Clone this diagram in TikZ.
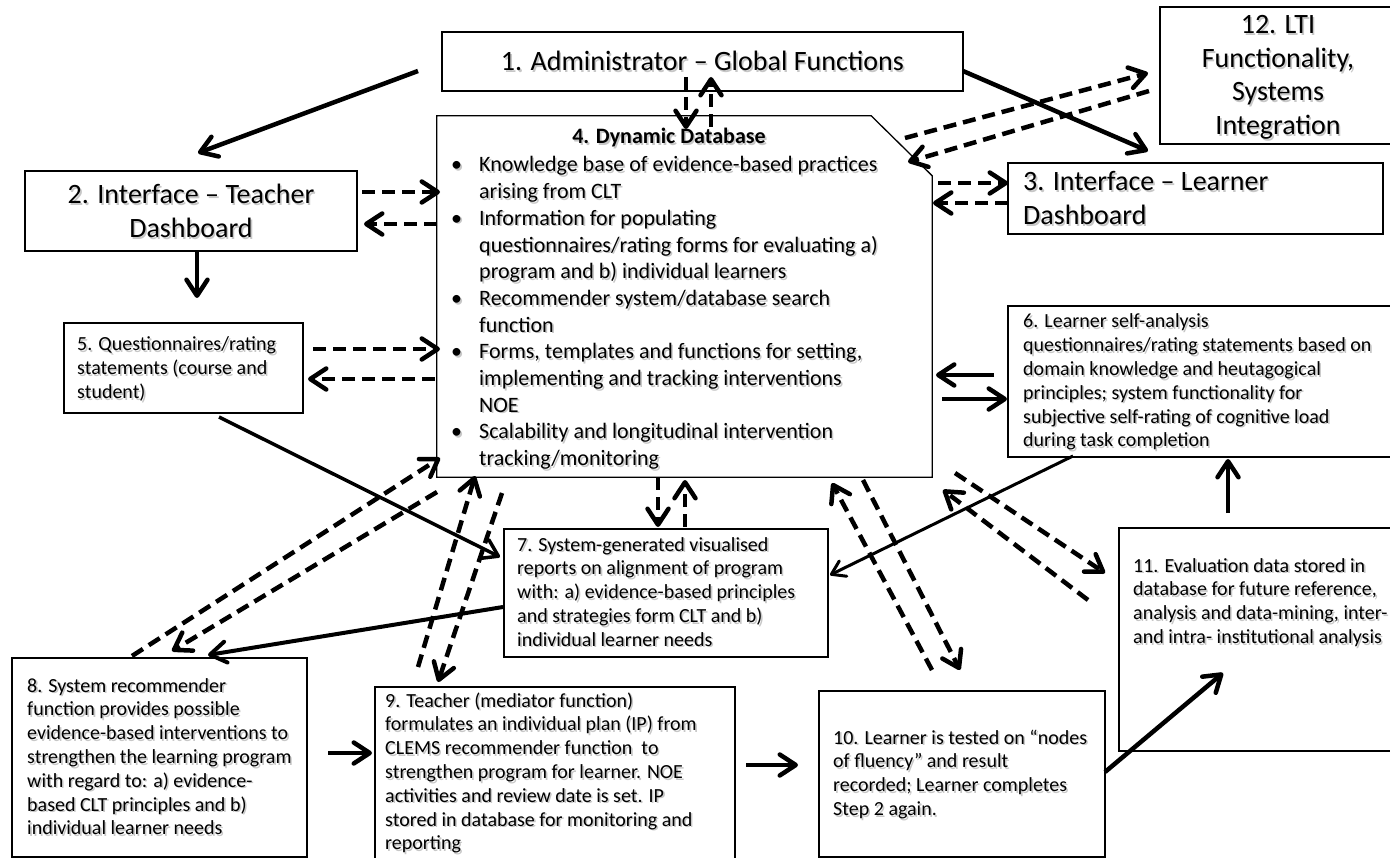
\documentclass[tikz,border=0pt]{standalone}
\usepackage{fontspec}
\setmainfont{Carlito}
\usetikzlibrary{arrows.meta}
\newcommand\bigtxt{\fontsize{28}{33.5}\selectfont}
\newcommand\dbtxt{\fontsize{22}{26.7}\selectfont}
\newcommand\smalltxt{\fontsize{20}{23.8}\selectfont}
\newcommand\dbitem{\makebox[28pt][l]{\textbullet}}
\newcommand\dbcont{\hspace*{28pt}}
% text with a soft grey drop shadow
\newcommand\shad[1]{\makebox[0pt][l]{\hspace{1.6pt}\raisebox{-1.6pt}{\color{black!22}#1}}#1}
\begin{document}
\begin{tikzpicture}[x=1pt,y=-1pt,
  box/.style={draw, line width=1.5pt, inner sep=0pt},
  txt/.style={inner sep=0pt, anchor=base west, font=\smalltxt},
  ctxt/.style={inner sep=0pt, anchor=base},
  link/.style={line width=4.5pt, -{Straight Barb[length=16pt,width=21pt,round]}},
  thinlink/.style={line width=3pt, -{Straight Barb[length=13pt,width=17pt,round]}},
  dlink/.style={link, dash pattern=on 13pt off 7pt},
]
\useasboundingbox (0,0) rectangle (1390,858);

% ---------- boxes ----------
\node[box, minimum width=521pt, minimum height=59pt]  (b1)  at (702.5,61.5) {};
\node[box, minimum width=236pt, minimum height=137pt] (b12) at (1278,75.5) {};
\node[box, minimum width=332pt, minimum height=80pt]  (b2)  at (191,211) {};
\node[box, minimum width=375pt, minimum height=71pt]  (b3)  at (1195.5,198.5) {};
\node[box, minimum width=239pt, minimum height=90pt]  (b5)  at (183.5,368) {};
\node[box, minimum width=388pt, minimum height=151pt] (b6)  at (1202,381.5) {};
\node[box, minimum width=324pt, minimum height=128pt] (b7)  at (666,593) {};
\node[box, minimum width=295pt, minimum height=199pt] (b8)  at (159.5,757.5) {};
\node[box, minimum width=360pt, minimum height=183pt] (b9)  at (555,778.5) {};
\node[box, minimum width=286pt, minimum height=166pt] (b10) at (962,774) {};
\node[box, minimum width=277pt, minimum height=223pt] (b11) at (1257.5,639.5) {};
% database: rectangle with a cut top-right corner
\node[inner sep=0pt, minimum width=495pt, minimum height=361pt] (b4) at (684.5,296.5) {};
\draw[line width=1.3pt] (b4.north west) -- ([xshift=-61pt]b4.north east)
  -- ([yshift=-60pt]b4.north east) -- (b4.south east) -- (b4.south west) -- cycle;

% ---------- texts ----------
\node[ctxt, font=\bigtxt] (t1) at (702.5,71) {\shad{1. Administrator – Global Functions}};
\node[ctxt, font=\bigtxt] (t12) at (1278,34)
  {\shad{\parbox[t]{230pt}{\centering 12. LTI\\Functionality,\\Systems\\Integration}}};
\node[ctxt, font=\bigtxt] (t2) at (191,204)
  {\shad{\parbox[t]{320pt}{\centering 2. Interface – Teacher\\Dashboard}}};
\node[txt, font=\bigtxt] (t3) at (1023,191)
  {\shad{\parbox[t]{350pt}{\raggedright 3. Interface – Learner\\Dashboard}}};
\node[ctxt, font=\dbtxt\bfseries] (t4h) at (669,144) {\shad{4. Dynamic Database}};
\node[txt, font=\dbtxt] (t4) at (451,172)
  {\shad{\parbox[t]{470pt}{\raggedright
   \dbitem Knowledge base of evidence-based practices\\
   \dbcont arising from CLT\\
   \dbitem Information for populating\\
   \dbcont questionnaires/rating forms for evaluating a)\\
   \dbcont program and b) individual learners\\
   \dbitem Recommender system/database search\\
   \dbcont function\\
   \dbitem Forms, templates and functions for setting,\\
   \dbcont implementing and tracking interventions\\
   \dbcont NOE\\
   \dbitem Scalability and longitudinal intervention\\
   \dbcont tracking/monitoring}}};
\node[txt] (t5) at (77,351)
  {\shad{\parbox[t]{225pt}{\raggedright 5. Questionnaires/rating\\statements (course and\\student)}}};
\node[txt] (t6) at (1023,328)
  {\shad{\parbox[t]{365pt}{\raggedright 6. Learner self-analysis\\questionnaires/rating statements based on\\domain knowledge and heutagogical\\principles; system functionality for\\subjective self-rating of cognitive load\\during task completion}}};
\node[txt] (t7) at (517,551)
  {\shad{\parbox[t]{310pt}{\raggedright 7. System-generated visualised\\reports on alignment of program\\with: a) evidence-based principles\\and strategies form CLT and b)\\individual learner needs}}};
\node[txt] (t8) at (27,692)
  {\shad{\parbox[t]{280pt}{\raggedright 8. System recommender\\function provides possible\\evidence-based interventions to\\strengthen the learning program\\with regard to: a) evidence-\\based CLT principles and b)\\individual learner needs}}};
\node[txt] (t9) at (385,707)
  {\shad{\parbox[t]{345pt}{\raggedright 9. Teacher (mediator function)\\formulates an individual plan (IP) from\\CLEMS recommender function\ \ to\\strengthen program for learner. NOE\\activities and review date is set. IP\\stored in database for monitoring and\\reporting}}};
\node[txt] (t10) at (833,744)
  {\shad{\parbox[t]{270pt}{\raggedright 10. Learner is tested on “nodes\\of fluency” and result\\recorded; Learner completes\\Step 2 again.}}};
\node[txt] (t11) at (1133,572)
  {\shad{\parbox[t]{260pt}{\raggedright 11. Evaluation data stored in\\database for future reference,\\analysis and data-mining, inter-\\and intra- institutional analysis}}};

% ---------- connector end points ----------
\coordinate (a1s) at (418,71);   \coordinate (a1e) at (198,153);
\coordinate (a2s) at (963,71);   \coordinate (a2e) at (1148,151);
\coordinate (a3s) at (197,252);  \coordinate (a3e) at (197,298);
\coordinate (a4s) at (219,417);  \coordinate (a4e) at (500,557);
\coordinate (a5s) at (1073,456); \coordinate (a5e) at (830,575);
\coordinate (a6s) at (503,607);  \coordinate (a6e) at (208,655);
\coordinate (a7s) at (328,753);  \coordinate (a7e) at (372,753);
\coordinate (a8s) at (746,765);  \coordinate (a8e) at (798,765);
\coordinate (a9s) at (1105,772); \coordinate (a9e) at (1223,673);
\coordinate (a10s) at (1228,513); \coordinate (a10e) at (1228,459);
\coordinate (a11s) at (994,375); \coordinate (a11e) at (936,375);
\coordinate (a12s) at (942,399); \coordinate (a12e) at (1007,399);

\coordinate (d1s) at (686,77);   \coordinate (d1e) at (686,129);
\coordinate (d2s) at (711,127);  \coordinate (d2e) at (711,77);
\coordinate (d3s) at (905,138);  \coordinate (d3e) at (1148,73);
\coordinate (d4s) at (1149,91);  \coordinate (d4e) at (908,162);
\coordinate (d5s) at (362,192);  \coordinate (d5e) at (440,192);
\coordinate (d6s) at (437,224);  \coordinate (d6e) at (364,224);
\coordinate (d7s) at (938,183);  \coordinate (d7e) at (1008,183);
\coordinate (d8s) at (1008,203); \coordinate (d8e) at (933,203);
\coordinate (d9s) at (313,349);  \coordinate (d9e) at (440,349);
\coordinate (d10s) at (435,379); \coordinate (d10e) at (308,379);
\coordinate (d11s) at (658,477); \coordinate (d11e) at (658,527);
\coordinate (d12s) at (685,527); \coordinate (d12e) at (685,480);
\coordinate (d13s) at (132,656); \coordinate (d13e) at (440,458);
\coordinate (d14s) at (437,492); \coordinate (d14e) at (172,651);
\coordinate (d15s) at (418,667); \coordinate (d15e) at (475,476);
\coordinate (d16s) at (502,493); \coordinate (d16e) at (438,682);
\coordinate (d17s) at (932,670); \coordinate (d17e) at (832,483);
\coordinate (d18s) at (863,480); \coordinate (d18e) at (960,670);
\coordinate (d19s) at (1088,600); \coordinate (d19e) at (943,490);
\coordinate (d20s) at (955,473); \coordinate (d20e) at (1105,573);

% ---------- solid connectors ----------
\draw[link] (a1s) -- (a1e);
\draw[link] (a2s) -- (a2e);
\draw[link] (a3s) -- (a3e);
\draw[link, line width=3.5pt] (a4s) -- (a4e);
\draw[thinlink] (a5s) -- (a5e);
\draw[link, line width=4pt] (a6s) -- (a6e);
\draw[link] (a7s) -- (a7e);
\draw[link] (a8s) -- (a8e);
\draw[link] (a9s) -- (a9e);
\draw[link] (a10s) -- (a10e);
\draw[link] (a11s) -- (a11e);
\draw[link] (a12s) -- (a12e);

% ---------- dashed connectors ----------
\foreach \i in {1,...,20} {\draw[dlink] (d\i s) -- (d\i e);}
\end{tikzpicture}
\end{document}
